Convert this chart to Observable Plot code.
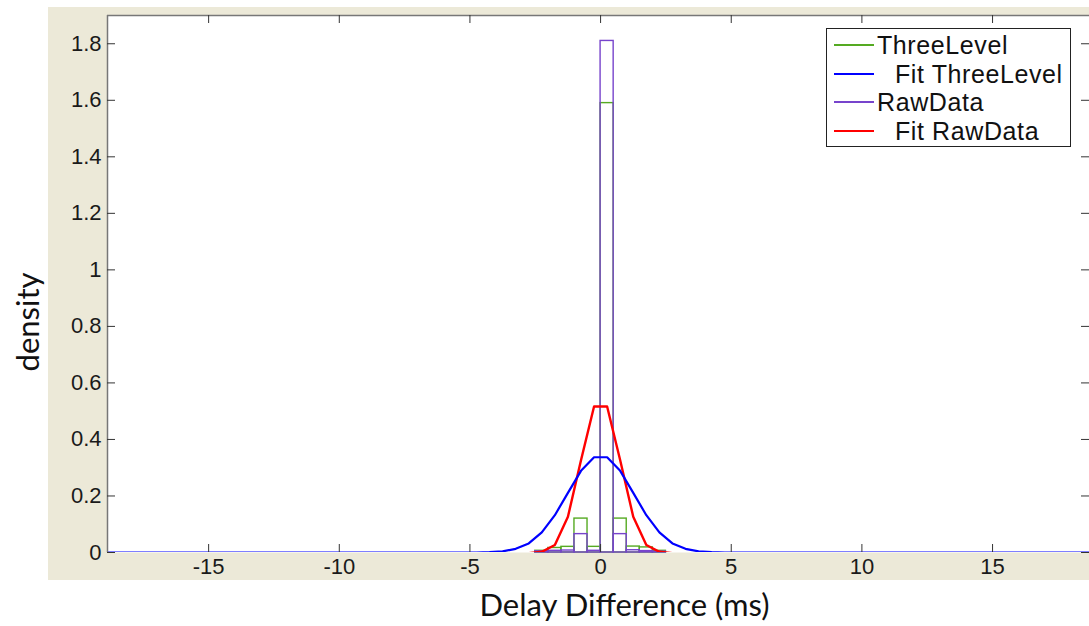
<!DOCTYPE html>
<html>
<head>
<meta charset="utf-8">
<script src="https://cdn.jsdelivr.net/npm/d3@7"></script>
<script src="https://cdn.jsdelivr.net/npm/@observablehq/plot@0.6"></script>
<style>
  body { margin: 0; background: #ffffff; }
  #wrap { position: relative; width: 1089px; height: 626px; overflow: hidden; }
  #panel { position: absolute; left: 48px; top: 7px; width: 1041px; height: 573px; background: #ece9d8; }
  #chart { position: absolute; left: 0; top: 0; }
  #chart svg { overflow: visible; background: transparent; }
  #chart svg text.tick-label { letter-spacing: 1.5px; }
  #legend { position: absolute; left: 826px; top: 28px; width: 243px; height: 117px;
            background: #fff; border: 1px solid #222;
            font-family: "Liberation Sans", Arial, sans-serif; font-size: 25px; letter-spacing: 0.6px; color: #111; }
  .row { position: absolute; left: 0; width: 243px; height: 28px; }
  .row .swatch { position: absolute; left: 7px; top: 14px; width: 40px; }
  .row .lab { position: absolute; top: 0; line-height: 30px; white-space: pre; }
</style>
</head>
<body>
<div id="wrap">
  <div id="panel"></div>
  <div id="chart"></div>
  <div id="legend"></div>
</div>
<script>
// Histogram bin edges (ms) and densities for the two histograms
const binEdges   = [-2.5, -2, -1.5, -1, -0.5, 0, 0.5, 1, 1.5, 2, 2.5];
const threeLevel = [0.006, 0.016, 0.020, 0.120, 0.020, 1.590, 0.120, 0.021, 0.018, 0.006];
const rawData    = [0.004, 0.006, 0.007, 0.065, 0.006, 1.810, 0.065, 0.008, 0.005, 0.003];

// Fitted density curves
const fitThreeX = [-19, -4.75, -4.25, -3.75, -3.25, -2.75, -2.25, -1.75, -1.25, -0.75, -0.25,
                   0.25, 0.75, 1.25, 1.75, 2.25, 2.75, 3.25, 3.75, 4.25, 4.75, 19];
const fitThreeY = [0, 0, 0.001, 0.004, 0.013, 0.032, 0.071, 0.132, 0.211, 0.289, 0.337,
                   0.337, 0.289, 0.211, 0.132, 0.071, 0.032, 0.013, 0.004, 0.001, 0, 0];
const fitRawX = [-9.75, -3.25, -2.75, -2.25, -1.75, -1.25, -0.75, -0.25,
                 0.25, 0.75, 1.25, 1.75, 2.25, 2.75, 3.25, 9.75];
const fitRawY = [0, 0, 0.001, 0.006, 0.030, 0.130, 0.330, 0.520,
                 0.520, 0.330, 0.130, 0.030, 0.006, 0.001, 0, 0];

// Axis ticks
const xTicks = [-15, -10, -5, 0, 5, 10, 15];
const yTicks = [0, 0.2, 0.4, 0.6, 0.8, 1, 1.2, 1.4, 1.6, 1.8];
const yTickLabels = ["0", "0.2", "0.4", "0.6", "0.8", "1", "1.2", "1.4", "1.6", "1.8"];

// Legend entries
const legendNames  = ["ThreeLevel", "Fit ThreeLevel", "RawData", "Fit RawData"];
const legendColors = ["#55aa22", "#0000ff", "#7744cc", "#ff0000"];
const legendWidths = [1.5, 2, 1.5, 2];
const legendIndent = [50, 68, 50, 68];

const GREEN = legendColors[0], BLUE = legendColors[1], PURPLE = legendColors[2], RED = legendColors[3];

const W = 1089, H = 626;
const mL = 107, mT = 15, mR = 0, mB = 74;
const frameW = W - mL - mR, frameH = H - mT - mB;
const tickLen = 8;

const bars = vals => vals.map((v, i) => ({x1: binEdges[i], x2: binEdges[i + 1], y: v}));
const pts = (xs, ys) => xs.map((x, i) => ({x, y: ys[i]}));

const tickFont = {fontFamily: "Liberation Sans, Arial, sans-serif", fontSize: 22, fill: "#1a1a1a", className: "tick-label"};

const chart = Plot.plot({
  width: W,
  height: H,
  marginLeft: mL, marginTop: mT, marginRight: mR, marginBottom: mB,
  style: {background: "transparent", overflow: "visible"},
  x: {domain: [-18.87, 18.71]},
  y: {domain: [0, 1.9]},
  marks: [
    Plot.frame({fill: "white", stroke: "none"}),
    // histograms drawn as outlined bars
    Plot.rect(bars(threeLevel), {x1: "x1", x2: "x2", y1: 0, y2: "y", fill: "none", stroke: GREEN, strokeWidth: 1.4}),
    Plot.rect(bars(rawData), {x1: "x1", x2: "x2", y1: 0, y2: "y", fill: "none", stroke: PURPLE, strokeWidth: 1.4}),
    // fitted curves
    Plot.line(pts(fitRawX, fitRawY), {x: "x", y: "y", stroke: RED, strokeWidth: 2.4, dy: 1, clip: true}),
    Plot.line(pts(fitThreeX, fitThreeY), {x: "x", y: "y", stroke: BLUE, strokeWidth: 2.2, clip: true}),
    // box edges (left and top)
    Plot.ruleX([-18.87], {stroke: "#777", strokeWidth: 1.5}),
    Plot.ruleY([1.9], {stroke: "#777", strokeWidth: 1.5}),
    // inward tick marks on all four sides
    Plot.tickX(xTicks, {x: d => d, insetTop: frameH - tickLen, stroke: "#333"}),
    Plot.tickX(xTicks, {x: d => d, insetBottom: frameH - tickLen, stroke: "#333"}),
    Plot.tickY(yTicks, {y: d => d, insetRight: frameW - tickLen, stroke: "#333"}),
    Plot.tickY(yTicks, {y: d => d, insetLeft: frameW - tickLen, stroke: "#333"}),
    // tick labels
    Plot.axisX(xTicks, {anchor: "bottom", tickSize: 0, tickPadding: 6, tickFormat: d => String(d), label: null, ...tickFont}),
    Plot.axisY(yTicks, {anchor: "left", tickSize: 0, tickPadding: 6, tickFormat: d => yTickLabels[yTicks.indexOf(d)], label: null, ...tickFont}),
    // axis titles
    Plot.text(["density"], {frameAnchor: "left", rotate: -90, dx: -78, dy: 38, textAnchor: "middle", lineAnchor: "middle",
                            fontFamily: "Lato, sans-serif", fontSize: 31, fill: "#111"}),
    Plot.text(["Delay Difference (ms)"], {frameAnchor: "bottom", dx: 26, dy: 54, textAnchor: "middle", lineAnchor: "middle",
                            fontFamily: "Lato, sans-serif", fontSize: 31, fill: "#111"})
  ]
});
document.getElementById("chart").appendChild(chart);

// Legend box
const legend = document.getElementById("legend");
legendNames.forEach((name, i) => {
  const row = document.createElement("div");
  row.className = "row";
  row.style.top = (1 + i * 28.7) + "px";
  const sw = document.createElement("div");
  sw.className = "swatch";
  sw.style.height = legendWidths[i] + "px";
  sw.style.background = legendColors[i];
  const lab = document.createElement("div");
  lab.className = "lab";
  lab.style.left = legendIndent[i] + "px";
  lab.textContent = name;
  row.appendChild(sw);
  row.appendChild(lab);
  legend.appendChild(row);
});
</script>
</body>
</html>
